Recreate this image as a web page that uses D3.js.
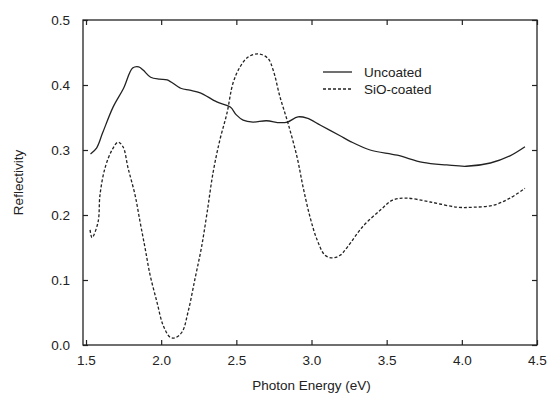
<!DOCTYPE html>
<html>
<head>
<meta charset="utf-8">
<script src="https://cdn.jsdelivr.net/npm/d3@7"></script>
<style>
  body { margin: 0; background: #fff; }
  svg { font-family: "Liberation Sans", Arial, sans-serif; }
  .axis path { stroke: none; }
  .axis line { stroke: #222; stroke-width: 1.2; }
  .axis text { font-size: 13.5px; fill: #222; }
</style>
</head>
<body>
<svg id="chart" width="552" height="400"></svg>
<script>
// photon energy (eV) vs reflectivity
const uncoatedE = [1.53, 1.57, 1.61, 1.68, 1.75, 1.81, 1.85, 1.88, 1.93, 1.99, 2.04, 2.13, 2.19, 2.26, 2.37, 2.46, 2.50, 2.545, 2.61, 2.70, 2.79, 2.84, 2.91, 2.97, 3.06, 3.19, 3.26, 3.39, 3.57, 3.74, 3.90, 4.03, 4.19, 4.32, 4.42];
const uncoatedR = [0.294, 0.303, 0.326, 0.366, 0.395, 0.426, 0.428, 0.423, 0.412, 0.409, 0.408, 0.395, 0.392, 0.388, 0.374, 0.366, 0.354, 0.346, 0.343, 0.345, 0.342, 0.343, 0.351, 0.349, 0.338, 0.322, 0.313, 0.300, 0.292, 0.281, 0.277, 0.275, 0.280, 0.291, 0.305];

const coatedE = [1.527, 1.54, 1.58, 1.593, 1.626, 1.673, 1.713, 1.746, 1.78, 1.826, 1.86, 1.893, 1.926, 1.972, 2.012, 2.059, 2.092, 2.139, 2.179, 2.226, 2.268, 2.305, 2.345, 2.39, 2.438, 2.478, 2.525, 2.578, 2.645, 2.71, 2.745, 2.79, 2.844, 2.904, 2.944, 2.99, 3.037, 3.09, 3.14, 3.19, 3.24, 3.34, 3.46, 3.54, 3.63, 3.79, 3.97, 4.08, 4.21, 4.32, 4.42];
const coatedR = [0.177, 0.165, 0.189, 0.231, 0.272, 0.300, 0.312, 0.305, 0.272, 0.231, 0.189, 0.149, 0.108, 0.066, 0.031, 0.012, 0.011, 0.020, 0.051, 0.103, 0.150, 0.203, 0.265, 0.315, 0.357, 0.403, 0.428, 0.443, 0.448, 0.441, 0.423, 0.382, 0.341, 0.289, 0.243, 0.197, 0.162, 0.138, 0.134, 0.138, 0.151, 0.182, 0.208, 0.223, 0.226, 0.220, 0.212, 0.212, 0.215, 0.226, 0.241];

const xTicks = [1.5, 2.0, 2.5, 3.0, 3.5, 4.0, 4.5];
const yTicks = [0.0, 0.1, 0.2, 0.3, 0.4, 0.5];
const seriesNames = ["Uncoated", "SiO-coated"];

const svg = d3.select("#chart");
const margin = { top: 20, right: 15, bottom: 55, left: 83 };
const width = 552 - margin.left - margin.right;
const height = 400 - margin.top - margin.bottom;

const x = d3.scaleLinear().domain([1.48, 4.5]).range([0, width]);
const y = d3.scaleLinear().domain([0, 0.5]).range([height, 0]);

const g = svg.append("g").attr("transform", `translate(${margin.left}, ${margin.top})`);

// frame
g.append("rect")
  .attr("width", width)
  .attr("height", height)
  .attr("fill", "none")
  .attr("stroke", "#222")
  .attr("stroke-width", 1.3);

// axes, ticks pointing inward
const fmt = d3.format(".1f");
g.append("g")
  .attr("class", "axis")
  .attr("transform", `translate(0, ${height})`)
  .call(d3.axisBottom(x).tickValues(xTicks).tickSize(-5).tickPadding(10).tickFormat(fmt));
g.append("g")
  .attr("class", "axis")
  .call(d3.axisTop(x).tickValues(xTicks).tickSize(-5).tickFormat(""));
g.append("g")
  .attr("class", "axis")
  .call(d3.axisLeft(y).tickValues(yTicks).tickSize(-5).tickPadding(13).tickFormat(fmt));
g.append("g")
  .attr("class", "axis")
  .attr("transform", `translate(${width}, 0)`)
  .call(d3.axisRight(y).tickValues(yTicks).tickSize(-5).tickFormat(""));

// curves
const line = d3.line()
  .x((d) => x(d[0]))
  .y((d) => y(d[1]))
  .curve(d3.curveCatmullRom);

g.append("path")
  .datum(d3.zip(uncoatedE, uncoatedR))
  .attr("d", line)
  .attr("fill", "none")
  .attr("stroke", "#222")
  .attr("stroke-width", 1.3);

g.append("path")
  .datum(d3.zip(coatedE, coatedR))
  .attr("d", line)
  .attr("fill", "none")
  .attr("stroke", "#222")
  .attr("stroke-width", 1.3)
  .attr("stroke-dasharray", "3,2");

// legend
const legend = g.append("g").attr("transform", "translate(240, 52)");
seriesNames.forEach((name, i) => {
  const row = legend.append("g").attr("transform", `translate(0, ${i * 17})`);
  row.append("line")
    .attr("x1", 0).attr("x2", 29)
    .attr("stroke", "#222")
    .attr("stroke-width", 1.3)
    .attr("stroke-dasharray", i === 1 ? "3,2" : null);
  row.append("text")
    .attr("x", 41)
    .attr("dy", "0.35em")
    .attr("font-size", 13.5)
    .attr("fill", "#222")
    .text(name);
});

// axis titles
svg.append("text")
  .attr("x", margin.left + x(3.0))
  .attr("y", 390)
  .attr("text-anchor", "middle")
  .attr("font-size", 13.5)
  .attr("fill", "#222")
  .text("Photon Energy (eV)");

svg.append("text")
  .attr("transform", `translate(23, ${margin.top + height / 2}) rotate(-90)`)
  .attr("text-anchor", "middle")
  .attr("font-size", 13.5)
  .attr("fill", "#222")
  .text("Reflectivity");
</script>
</body>
</html>
